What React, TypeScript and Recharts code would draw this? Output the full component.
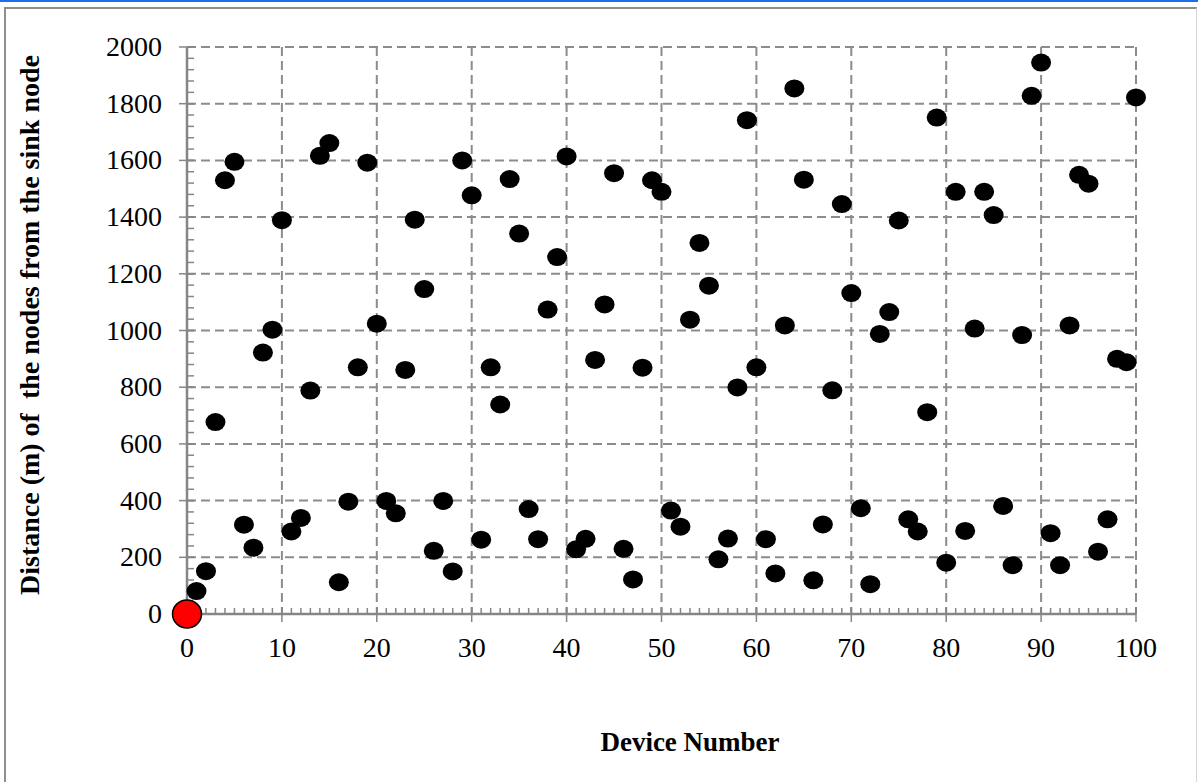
import React from "react";
import { ScatterChart, Scatter, XAxis, YAxis, CartesianGrid } from "recharts";

// device numbers (x) and their distance from the sink node (y, metres)
const deviceNumbers = [
  1, 2, 3, 4, 5, 6, 7, 8, 9, 10, 11, 12, 13, 14, 15, 16, 17, 18, 19, 20,
  21, 22, 23, 24, 25, 26, 27, 28, 29, 30, 31, 32, 33, 34, 35, 36, 37, 38, 39, 40,
  41, 42, 43, 44, 45, 46, 47, 48, 49, 50, 51, 52, 53, 54, 55, 56, 57, 58, 59, 60,
  61, 62, 63, 64, 65, 66, 67, 68, 69, 70, 71, 72, 73, 74, 75, 76, 77, 78, 79, 80,
  81, 82, 83, 84, 85, 86, 87, 88, 89, 90, 91, 92, 93, 94, 95, 96, 97, 98, 99, 100,
];
const distances = [
  81, 151, 677, 1530, 1595, 315, 234, 922, 1003, 1389,
  291, 339, 788, 1616, 1661, 112, 396, 870, 1592, 1024,
  399, 355, 861, 1391, 1146, 223, 399, 150, 1600, 1477,
  262, 870, 739, 1534, 1342, 370, 264, 1074, 1259, 1614,
  228, 265, 896, 1092, 1555, 230, 122, 869, 1530, 1489,
  365, 308, 1038, 1309, 1158, 193, 266, 799, 1742, 870,
  264, 143, 1018, 1854, 1532, 119, 316, 789, 1446, 1132,
  373, 105, 988, 1065, 1388, 334, 291, 712, 1751, 181,
  1489, 293, 1007, 1489, 1407, 381, 172, 984, 1828, 1945,
  285, 172, 1018, 1549, 1518, 220, 334, 900, 888, 1822,
];
const sinkDevice = [0];
const sinkDistance = [0];

const xMajor = [0, 10, 20, 30, 40, 50, 60, 70, 80, 90, 100];
const yMajor = [0, 200, 400, 600, 800, 1000, 1200, 1400, 1600, 1800, 2000];
// minor tick marks: every device on x, every 40 m on y
const xMinor = Array.from({ length: 100 }, (_, i) => i + 1);
const yMinor = Array.from({ length: 50 }, (_, i) => (i + 1) * 40);

const devicePoints = deviceNumbers.map((d, i) => ({ x: d, y: distances[i] }));
const sinkPoints = sinkDevice.map((d, i) => ({ x: d, y: sinkDistance[i] }));
const xMinorPoints = xMinor.map((v) => ({ x: v, y: 0 }));
const yMinorPoints = yMinor.map((v) => ({ x: 0, y: v }));

const W = 1198;
const H = 782;
const PLOT_LEFT = 187;
const PLOT_TOP = 47;
const PLOT_RIGHT = 1136;
const PLOT_BOTTOM = 614;

const AXIS = "#868686";
const GRID = "#8c8c8c";
const FONT = "'Liberation Serif', 'Times New Roman', serif";

const XTick = (props: any) => {
  const { x, y, payload } = props;
  const v = payload.value;
  return (
    <g>
      {v !== 0 && <line x1={x} x2={x} y1={y - 7} y2={y + 8} stroke={AXIS} strokeWidth={1.5} />}
      <text x={x} y={y + 43} textAnchor="middle" fontFamily={FONT} fontSize={28} fill="#000">
        {v}
      </text>
    </g>
  );
};

const YTick = (props: any) => {
  const { x, y, payload } = props;
  const v = payload.value;
  return (
    <g>
      {v !== 0 && <line x1={x - 8} x2={x + 7} y1={y} y2={y} stroke={AXIS} strokeWidth={1.5} />}
      <text x={x - 25} y={y + 9} textAnchor="end" fontFamily={FONT} fontSize={28} fill="#000">
        {v}
      </text>
    </g>
  );
};

const XMinorMark = (props: any) => (
  <line x1={props.cx} x2={props.cx} y1={props.cy} y2={props.cy - 6} stroke={AXIS} strokeWidth={1.5} />
);
const YMinorMark = (props: any) => (
  <line x1={props.cx} x2={props.cx + 7} y1={props.cy} y2={props.cy} stroke={AXIS} strokeWidth={1.5} />
);

const DeviceDot = (props: any) => (
  <ellipse cx={props.cx} cy={props.cy} rx={10} ry={9} fill="#000" />
);

const SinkDot = (props: any) => (
  <ellipse cx={props.cx} cy={props.cy} rx={14.5} ry={14} fill="#ff0000" stroke="#000" strokeWidth={1.5} />
);

export default function App() {
  return (
    <div style={{ position: "absolute", left: 0, top: 0, width: W, height: H, background: "#fff", overflow: "hidden" }}>
      <div style={{ position: "absolute", left: 0, top: 0, width: W, height: 2, background: "#1a6ff0" }} />
      <div
        style={{
          position: "absolute",
          left: 4,
          top: 7,
          width: 1190,
          height: 800,
          borderLeft: "2px solid #8e8e8e",
          borderTop: "2px solid #8e8e8e",
          borderRight: "1px solid #d4d4d4",
        }}
      />
      <div style={{ position: "absolute", left: 0, top: 0 }}>
        <ScatterChart
          width={W}
          height={H}
          margin={{ top: PLOT_TOP, right: W - PLOT_RIGHT, bottom: H - PLOT_BOTTOM - 40, left: PLOT_LEFT - 60 }}
        >
          <CartesianGrid stroke={GRID} strokeWidth={2} strokeDasharray="9 5" />
          <XAxis
            type="number"
            dataKey="x"
            domain={[0, 100]}
            ticks={xMajor}
            interval={0}
            height={40}
            tickSize={0}
            tickMargin={0}
            tickLine={false}
            axisLine={{ stroke: AXIS, strokeWidth: 2.5 }}
            tick={XTick}
          />
          <YAxis
            type="number"
            dataKey="y"
            domain={[0, 2000]}
            ticks={yMajor}
            interval={0}
            width={60}
            tickSize={0}
            tickMargin={0}
            tickLine={false}
            axisLine={{ stroke: AXIS, strokeWidth: 2.5 }}
            tick={YTick}
          />
          <Scatter data={xMinorPoints} shape={XMinorMark} isAnimationActive={false} />
          <Scatter data={yMinorPoints} shape={YMinorMark} isAnimationActive={false} />
          <Scatter data={devicePoints} shape={DeviceDot} isAnimationActive={false} />
          <Scatter data={sinkPoints} shape={SinkDot} isAnimationActive={false} />
        </ScatterChart>
      </div>
      <div
        style={{
          position: "absolute",
          left: 30,
          top: 325,
          transform: "translate(-50%, -50%) rotate(-90deg)",
          whiteSpace: "pre",
          fontFamily: FONT,
          fontWeight: "bold",
          fontSize: 28,
          lineHeight: "28px",
        }}
      >
        {"Distance (m) of  the nodes from the sink node"}
      </div>
      <div
        style={{
          position: "absolute",
          left: 690,
          top: 742,
          transform: "translate(-50%, -50%)",
          whiteSpace: "pre",
          fontFamily: FONT,
          fontWeight: "bold",
          fontSize: 27,
          lineHeight: "27px",
        }}
      >
        Device Number
      </div>
    </div>
  );
}
